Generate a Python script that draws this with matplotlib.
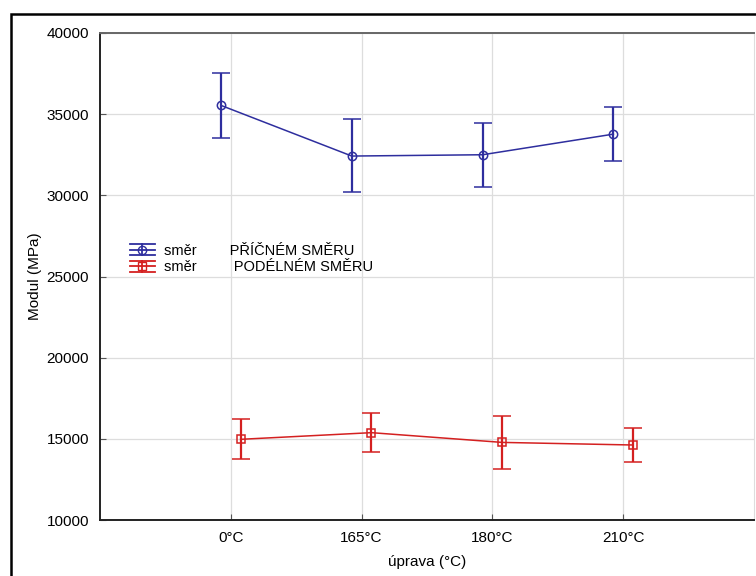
import matplotlib
matplotlib.use("Agg")
import matplotlib.pyplot as plt
from matplotlib.patches import Rectangle
from matplotlib.legend_handler import HandlerBase
from matplotlib.lines import Line2D
import numpy as np

plt.rcParams['font.family'] = ['Liberation Sans', 'DejaVu Sans']

categories = ["0°C", "165°C", "180°C", "210°C"]
y_ticks = [10000, 15000, 20000, 25000, 30000, 35000, 40000]

pricne_mean = [35540, 32420, 32500, 33770]
pricne_upper = [37510, 34700, 34470, 35460]
pricne_lower = [33550, 30180, 30520, 32090]

podelne_mean = [14970, 15380, 14780, 14620]
podelne_upper = [16200, 16570, 16400, 15670]
podelne_lower = [13760, 14190, 13160, 13570]

label_pricne = "směr        PŘÍČNÉM SMĚRU"
label_podelne = "směr         PODÉLNÉM SMĚRU"

blue = "#2e2e9e"
red = "#d42020"

fig = plt.figure(figsize=(7.56, 5.76), dpi=100)
ax = fig.add_axes([100/756, 56/576, 654/756, 487/576])

# outer frame
fig.patches.append(Rectangle((11/756, -0.05), 1.2, 1 - 14/576 + 0.05,
                             transform=fig.transFigure, fill=False,
                             edgecolor="black", linewidth=1.8, zorder=10))

x = np.arange(1, len(categories) + 1)
off = 0.075

def draw(xs, mean, lo, hi, color, marker):
    mean = np.array(mean); lo = np.array(lo); hi = np.array(hi)
    ax.errorbar(xs, mean, yerr=[mean - lo, hi - mean], color=color,
                marker=marker, markersize=6, markerfacecolor="none",
                markeredgecolor=color, markeredgewidth=1.1, linewidth=1.1,
                elinewidth=1.6, capsize=6.5, capthick=1.6, zorder=3)

draw(x - off, pricne_mean, pricne_lower, pricne_upper, blue, "o")
draw(x + off, podelne_mean, podelne_lower, podelne_upper, red, "s")

ax.set_xlim(0, 5)
ax.set_ylim(10000, 40000)
ax.set_xticks(x)
ax.set_xticklabels(categories)
ax.set_yticks(y_ticks)
ax.grid(True, color="#dddddd", linewidth=0.9, zorder=0)
ax.set_axisbelow(True)
ax.tick_params(direction="in", length=4, width=0.8, color="#555555",
               labelsize=11, pad=8)
ax.set_xlabel("úprava (°C)", fontsize=11, labelpad=7)
ax.set_ylabel("Modul (MPa)", fontsize=11, labelpad=3)
for s in ["left", "bottom"]:
    ax.spines[s].set_linewidth(1.4)
    ax.spines[s].set_color("#222222")
ax.spines["top"].set_linewidth(1.4)
ax.spines["top"].set_color("#666666")
ax.spines["right"].set_linewidth(0.8)
ax.spines["right"].set_color("#dddddd")


class ErrHandler(HandlerBase):
    def __init__(self, color, marker):
        super().__init__()
        self.color = color
        self.marker = marker

    def create_artists(self, legend, orig_handle, xdescent, ydescent,
                       width, height, fontsize, trans):
        cy = height / 2 - ydescent
        h = height * 0.85
        arts = []
        for yy in (cy - h / 2, cy, cy + h / 2):
            l = Line2D([-xdescent, width - xdescent], [yy, yy], color=self.color,
                       linewidth=1.3, transform=trans)
            arts.append(l)
        v = Line2D([width / 2 - xdescent] * 2, [cy - h / 2, cy + h / 2],
                   color=self.color, linewidth=1.3, transform=trans)
        arts.append(v)
        m = Line2D([width / 2 - xdescent], [cy], marker=self.marker,
                   markersize=6, markerfacecolor="none",
                   markeredgecolor=self.color, linestyle="none", transform=trans)
        arts.append(m)
        return arts


h1 = Line2D([], [], color=blue)
h2 = Line2D([], [], color=red)
leg = ax.legend([h1, h2], [label_pricne, label_podelne],
                handler_map={h1: ErrHandler(blue, "o"), h2: ErrHandler(red, "s")},
                loc="upper left", bbox_to_anchor=(30/654, (520-243)/487),
                frameon=False, fontsize=10.5, borderpad=0, borderaxespad=0,
                handlelength=1.7, handleheight=1.0, handletextpad=0.6,
                labelspacing=0.15)

fig.savefig("out.png", dpi=100)
